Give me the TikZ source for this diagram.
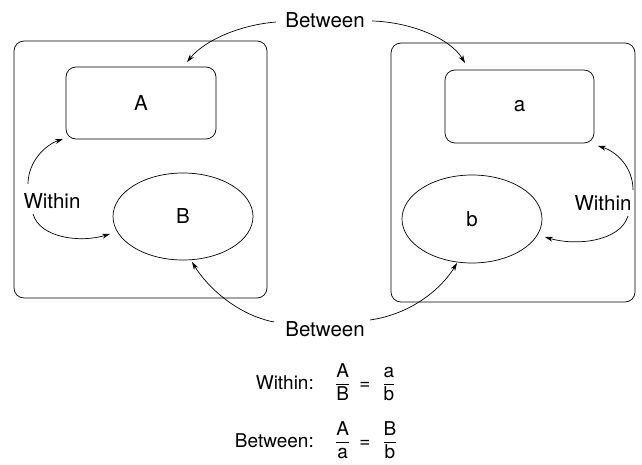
\documentclass[tikz,border=0pt]{standalone}
\usepackage{fontspec}
\setmainfont{TeX Gyre Heros}
\usetikzlibrary{arrows.meta,shapes.geometric}
\tikzset{
  outerbox/.style={draw, rounded corners=10pt, line width=0.7pt, inner sep=0pt},
  innerbox/.style={draw, rounded corners=10pt, line width=0.7pt, inner sep=0pt, minimum width=150pt, minimum height=72pt},
  ell/.style={draw, ellipse, line width=0.7pt, inner sep=0pt, minimum width=140pt, minimum height=87pt},
  lbl/.style={font=\fontsize{20.5}{24}\selectfont, inner sep=1pt},
  eq/.style={font=\fontsize{19}{23}\selectfont, inner sep=0pt},
  arr/.style={line width=0.7pt, -{Stealth[length=8pt,width=5pt]}}
}
\newcommand{\eqsign}{\hspace{9pt}\mbox{=}\hspace{12pt}}
\begin{document}
\begin{tikzpicture}[x=1pt,y=-1pt]
\useasboundingbox (0,0) rectangle (642,465);
% outer boxes
\node[outerbox, minimum width=253pt, minimum height=257pt] (L) at (140.5,169.5) {};
\node[outerbox, minimum width=244pt, minimum height=259pt] (R) at (513,172.5) {};
% inner shapes
\node[innerbox, lbl] (A) at (141,103) {A};
\node[ell, lbl] (B) at (183,216.5) {B};
\node[innerbox, lbl, minimum width=149pt, minimum height=73pt] (a) at (519.5,106.5) {a};
\node[ell, lbl, minimum height=88pt] (b) at (472,219) {b};
% labels
\node[lbl] (btop) at (325,20) {Between};
\node[lbl] (bbot) at (325,329) {Between};
\node[lbl] (wl) at (52,201) {Within};
\node[lbl] (wr) at (603,203) {Within};
% coordinates for arrow ends
\coordinate (t1s) at (276,22);
\coordinate (t1e) at (187,62);
\coordinate (t2s) at (372,21);
\coordinate (t2e) at (465,63);
\coordinate (l1s) at (28,184);
\coordinate (l1e) at (63,139);
\coordinate (l2s) at (33,214);
\coordinate (l2e) at (110,234);
\coordinate (r1s) at (633,190);
\coordinate (r1e) at (598,146);
\coordinate (r2s) at (628,216);
\coordinate (r2e) at (545,237);
\coordinate (b1s) at (274,322);
\coordinate (b1e) at (192,262);
\coordinate (b2s) at (370,320);
\coordinate (b2e) at (457,263);
% arrows
\draw[arr] (t1s) .. controls (240,25) and (205,40) .. (t1e);
\draw[arr] (t2s) .. controls (410,22) and (450,38) .. (t2e);
\draw[arr] (l1s) .. controls (28,162) and (45,145) .. (l1e);
\draw[arr] (l2s) .. controls (40,238) and (80,243) .. (l2e);
\draw[arr] (r1s) .. controls (633,166) and (615,151) .. (r1e);
\draw[arr] (r2s) .. controls (620,242) and (575,246) .. (r2e);
\draw[arr] (b1s) .. controls (238,315) and (208,288) .. (b1e);
\draw[arr] (b2s) .. controls (412,314) and (442,288) .. (b2e);
% equations
\node[eq, anchor=base east] (wt) at (314,389) {Within:};
\node[eq, anchor=base west] (we) at (335,389) {$\displaystyle\frac{\mbox{A}}{\mbox{B}}\eqsign\frac{\mbox{a}}{\mbox{b}}$};
\node[eq, anchor=base east] (bt) at (314,447) {Between:};
\node[eq, anchor=base west] (be) at (335,447) {$\displaystyle\frac{\mbox{A}}{\mbox{a}}\eqsign\frac{\mbox{B}}{\mbox{b}}$};
\end{tikzpicture}
\end{document}
